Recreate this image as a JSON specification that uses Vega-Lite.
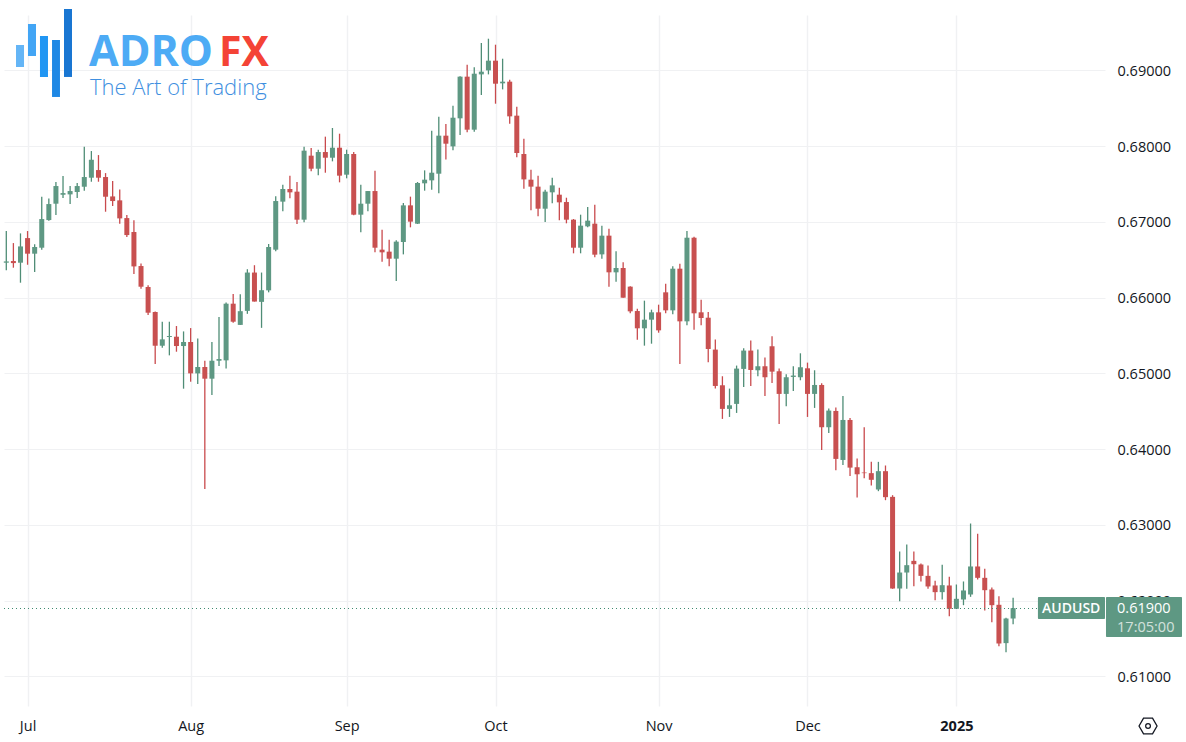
{"$schema":"https://vega.github.io/schema/vega-lite/v6.json","width":1101,"height":691,"autosize":"none","padding":{"left":4,"top":15,"right":81,"bottom":36},"background":"#ffffff","view":{"stroke":null},
"datasets":{"candles":[
{"date":"2024-06-26","i":0,"open":0.66460,"high":0.66878,"low":0.66359,"close":0.66477},
{"date":"2024-06-27","i":1,"open":0.66482,"high":0.66719,"low":0.66394,"close":0.66455},
{"date":"2024-06-28","i":2,"open":0.66460,"high":0.66847,"low":0.66196,"close":0.66675},
{"date":"2024-07-01","i":3,"open":0.66785,"high":0.66878,"low":0.66433,"close":0.66579},
{"date":"2024-07-02","i":4,"open":0.66579,"high":0.66702,"low":0.66337,"close":0.66667},
{"date":"2024-07-03","i":5,"open":0.66658,"high":0.67331,"low":0.66631,"close":0.67036},
{"date":"2024-07-04","i":6,"open":0.67023,"high":0.67309,"low":0.67014,"close":0.67234},
{"date":"2024-07-05","i":7,"open":0.67239,"high":0.67525,"low":0.67089,"close":0.67472},
{"date":"2024-07-08","i":8,"open":0.67357,"high":0.67604,"low":0.67313,"close":0.67379},
{"date":"2024-07-09","i":9,"open":0.67362,"high":0.67472,"low":0.67234,"close":0.67406},
{"date":"2024-07-10","i":10,"open":0.67393,"high":0.67511,"low":0.67313,"close":0.67472},
{"date":"2024-07-11","i":11,"open":0.67463,"high":0.67991,"low":0.67410,"close":0.67591},
{"date":"2024-07-12","i":12,"open":0.67582,"high":0.67934,"low":0.67529,"close":0.67819},
{"date":"2024-07-15","i":13,"open":0.67683,"high":0.67881,"low":0.67529,"close":0.67582},
{"date":"2024-07-16","i":14,"open":0.67591,"high":0.67643,"low":0.67133,"close":0.67331},
{"date":"2024-07-17","i":15,"open":0.67335,"high":0.67538,"low":0.67208,"close":0.67274},
{"date":"2024-07-18","i":16,"open":0.67283,"high":0.67428,"low":0.66975,"close":0.67045},
{"date":"2024-07-19","i":17,"open":0.67049,"high":0.67089,"low":0.66799,"close":0.66825},
{"date":"2024-07-22","i":18,"open":0.66865,"high":0.67019,"low":0.66310,"close":0.66411},
{"date":"2024-07-23","i":19,"open":0.66416,"high":0.66451,"low":0.66117,"close":0.66143},
{"date":"2024-07-24","i":20,"open":0.66139,"high":0.66161,"low":0.65769,"close":0.65800},
{"date":"2024-07-25","i":21,"open":0.65809,"high":0.65817,"low":0.65122,"close":0.65364},
{"date":"2024-07-26","i":22,"open":0.65364,"high":0.65681,"low":0.65338,"close":0.65448},
{"date":"2024-07-29","i":23,"open":0.65479,"high":0.65681,"low":0.65237,"close":0.65492},
{"date":"2024-07-30","i":24,"open":0.65483,"high":0.65624,"low":0.65285,"close":0.65360},
{"date":"2024-07-31","i":25,"open":0.65360,"high":0.65553,"low":0.64797,"close":0.65413},
{"date":"2024-08-01","i":26,"open":0.65413,"high":0.65597,"low":0.64889,"close":0.64999},
{"date":"2024-08-02","i":27,"open":0.64999,"high":0.65461,"low":0.64858,"close":0.65083},
{"date":"2024-08-05","i":28,"open":0.65083,"high":0.65166,"low":0.63472,"close":0.64929},
{"date":"2024-08-06","i":29,"open":0.64929,"high":0.65413,"low":0.64713,"close":0.65166},
{"date":"2024-08-07","i":30,"open":0.65166,"high":0.65743,"low":0.65096,"close":0.65188},
{"date":"2024-08-08","i":31,"open":0.65171,"high":0.65936,"low":0.65065,"close":0.65919},
{"date":"2024-08-09","i":32,"open":0.65919,"high":0.66046,"low":0.65668,"close":0.65681},
{"date":"2024-08-12","i":33,"open":0.65639,"high":0.66044,"low":0.65639,"close":0.65820},
{"date":"2024-08-13","i":34,"open":0.65824,"high":0.66374,"low":0.65785,"close":0.66330},
{"date":"2024-08-14","i":35,"open":0.66330,"high":0.66427,"low":0.65947,"close":0.65947},
{"date":"2024-08-15","i":36,"open":0.65943,"high":0.66330,"low":0.65600,"close":0.66097},
{"date":"2024-08-16","i":37,"open":0.66095,"high":0.66707,"low":0.66069,"close":0.66667},
{"date":"2024-08-19","i":38,"open":0.66632,"high":0.67336,"low":0.66610,"close":0.67274},
{"date":"2024-08-20","i":39,"open":0.67266,"high":0.67490,"low":0.67138,"close":0.67433},
{"date":"2024-08-21","i":40,"open":0.67433,"high":0.67609,"low":0.67310,"close":0.67389},
{"date":"2024-08-22","i":41,"open":0.67398,"high":0.67525,"low":0.66971,"close":0.67028},
{"date":"2024-08-23","i":42,"open":0.67028,"high":0.67992,"low":0.66993,"close":0.67939},
{"date":"2024-08-26","i":43,"open":0.67873,"high":0.67974,"low":0.67666,"close":0.67701},
{"date":"2024-08-27","i":44,"open":0.67701,"high":0.67952,"low":0.67613,"close":0.67921},
{"date":"2024-08-28","i":45,"open":0.67921,"high":0.68124,"low":0.67648,"close":0.67846},
{"date":"2024-08-29","i":46,"open":0.67846,"high":0.68238,"low":0.67798,"close":0.67978},
{"date":"2024-08-30","i":47,"open":0.67978,"high":0.68163,"low":0.67521,"close":0.67609},
{"date":"2024-09-02","i":48,"open":0.67622,"high":0.67952,"low":0.67574,"close":0.67895},
{"date":"2024-09-03","i":49,"open":0.67895,"high":0.67921,"low":0.67085,"close":0.67094},
{"date":"2024-09-04","i":50,"open":0.67094,"high":0.67490,"low":0.66861,"close":0.67239},
{"date":"2024-09-05","i":51,"open":0.67239,"high":0.67406,"low":0.67138,"close":0.67406},
{"date":"2024-09-06","i":52,"open":0.67406,"high":0.67675,"low":0.66597,"close":0.66658},
{"date":"2024-09-09","i":53,"open":0.66632,"high":0.66896,"low":0.66474,"close":0.66597},
{"date":"2024-09-10","i":54,"open":0.66606,"high":0.66764,"low":0.66412,"close":0.66513},
{"date":"2024-09-11","i":55,"open":0.66513,"high":0.66755,"low":0.66218,"close":0.66738},
{"date":"2024-09-12","i":56,"open":0.66733,"high":0.67248,"low":0.66570,"close":0.67217},
{"date":"2024-09-13","i":57,"open":0.67217,"high":0.67332,"low":0.66927,"close":0.67002},
{"date":"2024-09-16","i":58,"open":0.66975,"high":0.67525,"low":0.66971,"close":0.67512},
{"date":"2024-09-17","i":59,"open":0.67508,"high":0.67679,"low":0.67411,"close":0.67556},
{"date":"2024-09-18","i":60,"open":0.67547,"high":0.68203,"low":0.67424,"close":0.67648},
{"date":"2024-09-19","i":61,"open":0.67635,"high":0.68388,"low":0.67376,"close":0.68137},
{"date":"2024-09-20","i":62,"open":0.68137,"high":0.68291,"low":0.67824,"close":0.68031},
{"date":"2024-09-23","i":63,"open":0.67996,"high":0.68533,"low":0.67943,"close":0.68374},
{"date":"2024-09-24","i":64,"open":0.68366,"high":0.68920,"low":0.68146,"close":0.68916},
{"date":"2024-09-25","i":65,"open":0.68916,"high":0.69074,"low":0.68181,"close":0.68216},
{"date":"2024-09-26","i":66,"open":0.68216,"high":0.69039,"low":0.68190,"close":0.68955},
{"date":"2024-09-27","i":67,"open":0.68946,"high":0.69360,"low":0.68674,"close":0.68982},
{"date":"2024-09-30","i":68,"open":0.68999,"high":0.69417,"low":0.68946,"close":0.69127},
{"date":"2024-10-01","i":69,"open":0.69127,"high":0.69338,"low":0.68559,"close":0.68823},
{"date":"2024-10-02","i":70,"open":0.68828,"high":0.69153,"low":0.68748,"close":0.68850},
{"date":"2024-10-03","i":71,"open":0.68850,"high":0.68876,"low":0.68295,"close":0.68392},
{"date":"2024-10-04","i":72,"open":0.68401,"high":0.68520,"low":0.67851,"close":0.67908},
{"date":"2024-10-07","i":73,"open":0.67895,"high":0.68097,"low":0.67437,"close":0.67560},
{"date":"2024-10-08","i":74,"open":0.67556,"high":0.67688,"low":0.67151,"close":0.67464},
{"date":"2024-10-09","i":75,"open":0.67464,"high":0.67609,"low":0.67072,"close":0.67173},
{"date":"2024-10-10","i":76,"open":0.67173,"high":0.67424,"low":0.66997,"close":0.67398},
{"date":"2024-10-11","i":77,"open":0.67389,"high":0.67582,"low":0.67244,"close":0.67481},
{"date":"2024-10-14","i":78,"open":0.67358,"high":0.67450,"low":0.67019,"close":0.67257},
{"date":"2024-10-15","i":79,"open":0.67261,"high":0.67318,"low":0.66980,"close":0.67028},
{"date":"2024-10-16","i":80,"open":0.67028,"high":0.67037,"low":0.66584,"close":0.66658},
{"date":"2024-10-17","i":81,"open":0.66658,"high":0.67094,"low":0.66584,"close":0.66949},
{"date":"2024-10-18","i":82,"open":0.66940,"high":0.67195,"low":0.66927,"close":0.67015},
{"date":"2024-10-21","i":83,"open":0.66975,"high":0.67226,"low":0.66531,"close":0.66566},
{"date":"2024-10-22","i":84,"open":0.66570,"high":0.66949,"low":0.66513,"close":0.66817},
{"date":"2024-10-23","i":85,"open":0.66817,"high":0.66909,"low":0.66144,"close":0.66333},
{"date":"2024-10-24","i":86,"open":0.66333,"high":0.66610,"low":0.66210,"close":0.66390},
{"date":"2024-10-25","i":87,"open":0.66390,"high":0.66465,"low":0.65998,"close":0.65998},
{"date":"2024-10-28","i":88,"open":0.66144,"high":0.66148,"low":0.65792,"close":0.65818},
{"date":"2024-10-29","i":89,"open":0.65822,"high":0.65853,"low":0.65444,"close":0.65594},
{"date":"2024-10-30","i":90,"open":0.65594,"high":0.65959,"low":0.65365,"close":0.65708},
{"date":"2024-10-31","i":91,"open":0.65708,"high":0.65840,"low":0.65391,"close":0.65805},
{"date":"2024-11-01","i":92,"open":0.65805,"high":0.65906,"low":0.65536,"close":0.65567},
{"date":"2024-11-04","i":93,"open":0.66069,"high":0.66183,"low":0.65792,"close":0.65831},
{"date":"2024-11-05","i":94,"open":0.65831,"high":0.66412,"low":0.65778,"close":0.66381},
{"date":"2024-11-06","i":95,"open":0.66381,"high":0.66447,"low":0.65123,"close":0.65686},
{"date":"2024-11-07","i":96,"open":0.65686,"high":0.66878,"low":0.65633,"close":0.66790},
{"date":"2024-11-08","i":97,"open":0.66790,"high":0.66804,"low":0.65576,"close":0.65792},
{"date":"2024-11-11","i":98,"open":0.65805,"high":0.65972,"low":0.65633,"close":0.65730},
{"date":"2024-11-12","i":99,"open":0.65734,"high":0.65809,"low":0.65145,"close":0.65321},
{"date":"2024-11-13","i":100,"open":0.65313,"high":0.65445,"low":0.64798,"close":0.64833},
{"date":"2024-11-14","i":101,"open":0.64842,"high":0.64961,"low":0.64398,"close":0.64530},
{"date":"2024-11-15","i":102,"open":0.64530,"high":0.64798,"low":0.64424,"close":0.64578},
{"date":"2024-11-18","i":103,"open":0.64596,"high":0.65102,"low":0.64477,"close":0.65062},
{"date":"2024-11-19","i":104,"open":0.65058,"high":0.65330,"low":0.64820,"close":0.65300},
{"date":"2024-11-20","i":105,"open":0.65300,"high":0.65432,"low":0.64833,"close":0.65044},
{"date":"2024-11-21","i":106,"open":0.65040,"high":0.65313,"low":0.64961,"close":0.65093},
{"date":"2024-11-22","i":107,"open":0.65093,"high":0.65207,"low":0.64701,"close":0.64948},
{"date":"2024-11-25","i":108,"open":0.65357,"high":0.65489,"low":0.64873,"close":0.65022},
{"date":"2024-11-26","i":109,"open":0.65027,"high":0.65062,"low":0.64332,"close":0.64728},
{"date":"2024-11-27","i":110,"open":0.64728,"high":0.64987,"low":0.64565,"close":0.64948},
{"date":"2024-11-28","i":111,"open":0.64952,"high":0.65093,"low":0.64767,"close":0.64970},
{"date":"2024-11-29","i":112,"open":0.64948,"high":0.65264,"low":0.64908,"close":0.65080},
{"date":"2024-12-02","i":113,"open":0.65066,"high":0.65141,"low":0.64424,"close":0.64728},
{"date":"2024-12-03","i":114,"open":0.64728,"high":0.65040,"low":0.64543,"close":0.64846},
{"date":"2024-12-04","i":115,"open":0.64846,"high":0.64868,"low":0.63988,"close":0.64288},
{"date":"2024-12-05","i":116,"open":0.64288,"high":0.64534,"low":0.64213,"close":0.64508},
{"date":"2024-12-06","i":117,"open":0.64503,"high":0.64547,"low":0.63720,"close":0.63870},
{"date":"2024-12-09","i":118,"open":0.63856,"high":0.64701,"low":0.63790,"close":0.64384},
{"date":"2024-12-10","i":119,"open":0.64384,"high":0.64411,"low":0.63645,"close":0.63755},
{"date":"2024-12-11","i":120,"open":0.63760,"high":0.63874,"low":0.63359,"close":0.63667},
{"date":"2024-12-12","i":121,"open":0.63690,"high":0.64288,"low":0.63616,"close":0.63682},
{"date":"2024-12-13","i":122,"open":0.63682,"high":0.63831,"low":0.63519,"close":0.63594},
{"date":"2024-12-16","i":123,"open":0.63466,"high":0.63831,"low":0.63444,"close":0.63708},
{"date":"2024-12-17","i":124,"open":0.63708,"high":0.63783,"low":0.63325,"close":0.63365},
{"date":"2024-12-18","i":125,"open":0.63369,"high":0.63391,"low":0.62155,"close":0.62159},
{"date":"2024-12-19","i":126,"open":0.62159,"high":0.62648,"low":0.61992,"close":0.62370},
{"date":"2024-12-20","i":127,"open":0.62370,"high":0.62740,"low":0.62155,"close":0.62467},
{"date":"2024-12-23","i":128,"open":0.62524,"high":0.62648,"low":0.62190,"close":0.62480},
{"date":"2024-12-24","i":129,"open":0.62476,"high":0.62489,"low":0.62252,"close":0.62326},
{"date":"2024-12-26","i":130,"open":0.62326,"high":0.62463,"low":0.62155,"close":0.62186},
{"date":"2024-12-27","i":131,"open":0.62199,"high":0.62260,"low":0.62005,"close":0.62111},
{"date":"2024-12-30","i":132,"open":0.62111,"high":0.62472,"low":0.62014,"close":0.62203},
{"date":"2024-12-31","i":133,"open":0.62199,"high":0.62313,"low":0.61794,"close":0.61891},
{"date":"2025-01-01","i":134,"open":0.61891,"high":0.62212,"low":0.61891,"close":0.62023},
{"date":"2025-01-02","i":135,"open":0.62014,"high":0.62252,"low":0.61939,"close":0.62133},
{"date":"2025-01-03","i":136,"open":0.62080,"high":0.63017,"low":0.62049,"close":0.62450},
{"date":"2025-01-06","i":137,"open":0.62450,"high":0.62881,"low":0.62278,"close":0.62300},
{"date":"2025-01-07","i":138,"open":0.62300,"high":0.62419,"low":0.61869,"close":0.62137},
{"date":"2025-01-08","i":139,"open":0.62146,"high":0.62172,"low":0.61715,"close":0.61939},
{"date":"2025-01-09","i":140,"open":0.61944,"high":0.62058,"low":0.61398,"close":0.61433},
{"date":"2025-01-10","i":141,"open":0.61438,"high":0.61772,"low":0.61319,"close":0.61763},
{"date":"2025-01-13","i":142,"open":0.61763,"high":0.62036,"low":0.61688,"close":0.61900}
]},
"layer":[
{"data":{"name":"candles"},"mark":{"type":"rule","strokeWidth":1.3},"encoding":{
"x":{"field":"i","type":"quantitative","scale":{"domain":[-0.324,154.96],"nice":false,"zero":false,"padding":0},"axis":{"values":[3,26,48,69,92,113,134],"title":null,"labelExpr":"datum.value==3?'Jul':datum.value==26?'Aug':datum.value==48?'Sep':datum.value==69?'Oct':datum.value==92?'Nov':datum.value==113?'Dec':'2025'","labelFontWeight":{"expr":"datum.value==134?'bold':'normal'"},"labelFont":"Open Sans","labelFontSize":14.5,"labelColor":"#131722","labelPadding":13,"ticks":false,"domain":false,"grid":true,"gridColor":"#f0f1f3","gridWidth":1.4,"labelFlush":false,"labelOverlap":false}},
"y":{"field":"low","type":"quantitative","scale":{"domain":[0.60608,0.6973],"nice":false,"zero":false},"axis":{"orient":"right","values":[0.61,0.62,0.63,0.64,0.65,0.66,0.67,0.68,0.69],"format":".5f","title":null,"labelFont":"Open Sans","labelFontSize":14.5,"labelColor":"#131722","labelPadding":12,"labelOffset":1,"ticks":false,"domain":false,"grid":true,"gridColor":"#f0f1f3","gridWidth":1,"labelOverlap":false}},
"y2":{"field":"high"},
"color":{"condition":{"test":"datum.close >= datum.open","value":"#4f8d76"},"value":"#c94a4d"}}},
{"data":{"name":"candles"},"mark":{"type":"bar","size":5,"orient":"vertical"},"encoding":{
"x":{"field":"i","type":"quantitative"},
"y":{"field":"open","type":"quantitative"},
"y2":{"field":"close"},
"color":{"condition":{"test":"datum.close >= datum.open","value":"#5e9883"},"value":"#c85050"}}},
{"data":{"values":[{"price":0.61895}]},"mark":{"type":"rule","strokeWidth":1,"strokeDash":[1,3],"color":"#3f8a70"},"encoding":{"y":{"field":"price","type":"quantitative"}}},
{"data":{"values":[{"tag":"AUDUSD","x0":145.5,"x1":154.96,"y0":0.62047,"y1":0.61757},{"tag":"price","x0":155.1,"x1":165.82,"y0":0.62047,"y1":0.61519}]},"mark":{"type":"rect","color":"#5e9883","cornerRadius":1},"encoding":{"x":{"field":"x0","type":"quantitative"},"x2":{"field":"x1"},"y":{"field":"y0","type":"quantitative"},"y2":{"field":"y1"}}},
{"data":{"values":[{"label":"AUDUSD","at":150.2,"price":0.61889}]},"mark":{"type":"text","font":"Open Sans","fontSize":14,"fontWeight":600,"color":"#ffffff","align":"center","baseline":"middle"},"encoding":{"x":{"field":"at","type":"quantitative"},"y":{"field":"price","type":"quantitative"},"text":{"field":"label"}}},
{"data":{"values":[{"label":"0.61900","at":156.66,"price":0.61882}]},"mark":{"type":"text","font":"Open Sans","fontSize":14.5,"fontWeight":500,"color":"#ffffff","align":"left","baseline":"middle"},"encoding":{"x":{"field":"at","type":"quantitative"},"y":{"field":"price","type":"quantitative"},"text":{"field":"label"}}},
{"data":{"values":[{"label":"17:05:00","at":156.66,"price":0.61644}]},"mark":{"type":"text","font":"Open Sans","fontSize":14.5,"color":"#ffffff","opacity":0.72,"align":"left","baseline":"middle"},"encoding":{"x":{"field":"at","type":"quantitative"},"y":{"field":"price","type":"quantitative"},"text":{"field":"label"}}},
{"data":{"values":[{"at":161.03,"price":0.60344}]},"mark":{"type":"point","shape":"M-1,0L-0.5,-0.88L0.5,-0.88L1,0L0.5,0.88L-0.5,0.88Z","size":324,"filled":false,"opacity":1,"stroke":"#131722","strokeWidth":1.3},"encoding":{"x":{"field":"at","type":"quantitative"},"y":{"field":"price","type":"quantitative"}}},
{"data":{"values":[{"at":161.03,"price":0.60344}]},"mark":{"type":"point","shape":"circle","size":22,"filled":false,"opacity":1,"stroke":"#131722","strokeWidth":1.3},"encoding":{"x":{"field":"at","type":"quantitative"},"y":{"field":"price","type":"quantitative"}}},
{"data":{"values":[{"bar":"a","x0":1.37,"x1":2.5,"y0":0.69334,"y1":0.69044},{"bar":"b","x0":3.06,"x1":4.19,"y0":0.69611,"y1":0.69189},{"bar":"c","x0":4.75,"x1":5.88,"y0":0.69453,"y1":0.68912},{"bar":"d","x0":6.45,"x1":7.57,"y0":0.694,"y1":0.68648},{"bar":"e","x0":8.14,"x1":9.27,"y0":0.69809,"y1":0.68912}]},"mark":{"type":"rect"},"encoding":{"x":{"field":"x0","type":"quantitative"},"x2":{"field":"x1"},"y":{"field":"y0","type":"quantitative"},"y2":{"field":"y1"},"color":{"field":"bar","type":"nominal","legend":null,"scale":{"domain":["a","b","c","d","e"],"range":["#64b5f6","#42a5f5","#2196f3","#1e88e5","#1976d2"]}}}},
{"data":{"values":[{"label":"ADRO","at":11.66,"price":0.69057}]},"mark":{"type":"text","font":"Open Sans","fontSize":43,"fontWeight":700,"color":"#4dabf5","align":"left","baseline":"alphabetic"},"encoding":{"x":{"field":"at","type":"quantitative"},"y":{"field":"price","type":"quantitative"},"text":{"field":"label"}}},
{"data":{"values":[{"label":"FX","at":30.0,"price":0.69057}]},"mark":{"type":"text","font":"Open Sans","fontSize":41,"fontWeight":700,"color":"#f44336","align":"left","baseline":"alphabetic"},"encoding":{"x":{"field":"at","type":"quantitative"},"y":{"field":"price","type":"quantitative"},"text":{"field":"label"}}},
{"data":{"values":[{"label":"The Art of Trading","at":11.8,"price":0.68674}]},"mark":{"type":"text","font":"Open Sans","fontSize":22,"fontWeight":300,"color":"#3f8fe0","align":"left","baseline":"alphabetic"},"encoding":{"x":{"field":"at","type":"quantitative"},"y":{"field":"price","type":"quantitative"},"text":{"field":"label"}}}
]}
